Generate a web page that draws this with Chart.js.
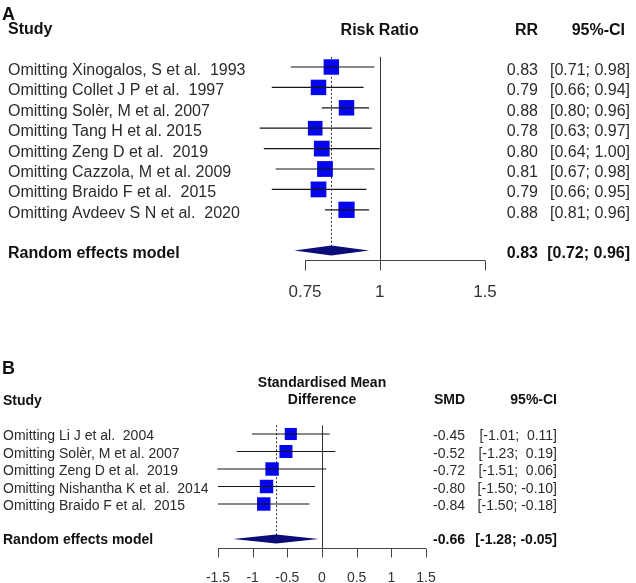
<!DOCTYPE html>
<html>
<head>
<meta charset="utf-8">
<script src="https://cdn.jsdelivr.net/npm/chart.js@4/dist/chart.umd.min.js"></script>
<style>
body { margin: 0; background: #fff; }
canvas { position: absolute; left: 0; }
</style>
</head>
<body>
<canvas id="chartA" width="636" height="300" style="top:0"></canvas>
<canvas id="chartB" width="636" height="283" style="top:300px"></canvas>
<script>
// panel A - risk ratio, leave-one-out
var studiesA = [
  'Omitting Xinogalos, S et al.  1993',
  'Omitting Collet J P et al.  1997',
  'Omitting Sol\u00e8r, M et al. 2007',
  'Omitting Tang H et al. 2015',
  'Omitting Zeng D et al.  2019',
  'Omitting Cazzola, M et al. 2009',
  'Omitting Braido F et al.  2015',
  'Omitting Avdeev S N et al.  2020'
];
var rrA = [0.83, 0.79, 0.88, 0.78, 0.80, 0.81, 0.79, 0.88];
var loA = [0.71, 0.66, 0.80, 0.63, 0.64, 0.67, 0.66, 0.81];
var hiA = [0.98, 0.94, 0.96, 0.97, 1.00, 0.98, 0.95, 0.96];
var weightA = [0.95, 0.95, 0.95, 0.9, 0.97, 0.97, 0.97, 1];
var summaryA = [0.83, 0.72, 0.96];
var ticksA = [0.75, 1, 1.5];

// panel B - standardised mean difference
var studiesB = [
  'Omitting Li J et al.  2004',
  'Omitting Sol\u00e8r, M et al. 2007',
  'Omitting Zeng D et al.  2019',
  'Omitting Nishantha K et al.  2014',
  'Omitting Braido F et al.  2015'
];
var smdB = [-0.45, -0.52, -0.72, -0.80, -0.84];
var loB = [-1.01, -1.23, -1.51, -1.50, -1.50];
var hiB = [0.11, 0.19, 0.06, -0.10, -0.18];
var weightB = [0.9, 0.97, 1, 1, 1];
var summaryB = [-0.66, -1.28, -0.05];
var ticksB = [-1.5, -1, -0.5, 0, 0.5, 1, 1.5];

function fmt(v) { return v.toFixed(2); }
function fmtSigned(v) { return (v < 0 ? '' : ' ') + v.toFixed(2); }

function forest(id, o) {
  var pts = o.est.map(function(v, i) { return {x: v, y: i + 1}; });
  var sets = o.est.map(function(v, i) {
    return {
      data: [{x: o.lo[i], y: i + 1}, {x: o.hi[i], y: i + 1}],
      showLine: true, borderColor: '#151515', borderWidth: 1.2,
      pointRadius: 0, clip: false
    };
  });
  sets.push({
    data: pts, pointStyle: 'rect',
    pointRadius: o.w.map(function(w) { return w * o.box; }),
    backgroundColor: '#0505ee', borderColor: '#0505ee', borderWidth: 0, clip: false
  });
  sets.push({
    data: pts, pointStyle: 'line', pointRotation: 90, pointRadius: 3,
    borderColor: '#111', borderWidth: 1, clip: false
  });

  var deco = {
    id: 'deco',
    beforeDatasetsDraw: function(chart) {
      var ctx = chart.ctx, x = chart.scales.x, y = chart.scales.y, a = chart.chartArea;
      ctx.save();
      ctx.strokeStyle = '#333';
      ctx.lineWidth = 1;
      // null line
      var nx = Math.round(x.getPixelForValue(o.nullValue)) + 0.5;
      ctx.beginPath(); ctx.moveTo(nx, y.getPixelForValue(0.5)); ctx.lineTo(nx, a.bottom); ctx.stroke();
      // summary dotted line
      var sx = Math.round(x.getPixelForValue(o.summary[0])) + 0.5;
      ctx.setLineDash([2, 2]);
      ctx.beginPath(); ctx.moveTo(sx, y.getPixelForValue(0.5)); ctx.lineTo(sx, y.getPixelForValue(o.sumRow)); ctx.stroke();
      ctx.setLineDash([]);
      // axis
      var by = Math.round(a.bottom) + 0.5;
      ctx.strokeStyle = '#444';
      ctx.beginPath();
      ctx.moveTo(x.getPixelForValue(o.ticks[0]), by);
      ctx.lineTo(x.getPixelForValue(o.ticks[o.ticks.length - 1]), by);
      o.ticks.forEach(function(t) {
        var tx = Math.round(x.getPixelForValue(t)) + 0.5;
        ctx.moveTo(tx, by); ctx.lineTo(tx, by + o.tickLen);
      });
      ctx.stroke();
      ctx.fillStyle = '#333';
      ctx.font = o.tickFont;
      ctx.textAlign = 'center';
      ctx.textBaseline = 'alphabetic';
      o.ticks.forEach(function(t) {
        ctx.fillText(String(t), x.getPixelForValue(t), o.tickY);
      });
      ctx.restore();
    },
    afterDatasetsDraw: function(chart) {
      var ctx = chart.ctx, x = chart.scales.x, y = chart.scales.y;
      ctx.save();
      // diamond
      var dy = y.getPixelForValue(o.sumRow);
      ctx.fillStyle = '#0b0b7a';
      ctx.beginPath();
      ctx.moveTo(x.getPixelForValue(o.summary[1]), dy);
      ctx.lineTo(x.getPixelForValue(o.summary[0]), dy - o.dh);
      ctx.lineTo(x.getPixelForValue(o.summary[2]), dy);
      ctx.lineTo(x.getPixelForValue(o.summary[0]), dy + o.dh);
      ctx.closePath();
      ctx.fill();

      ctx.textBaseline = 'alphabetic';
      // panel letter and headers
      ctx.fillStyle = '#111';
      ctx.font = 'bold 18px "Liberation Sans", Arial, sans-serif';
      ctx.textAlign = 'left';
      ctx.fillText(o.letter, 2, o.letterY);
      ctx.font = o.boldFont;
      ctx.fillText('Study', o.textX, o.studyY);
      ctx.textAlign = 'center';
      var nx = x.getPixelForValue(o.nullValue);
      o.title.forEach(function(t, i) { ctx.fillText(t, nx, o.titleY[i]); });
      ctx.textAlign = 'right';
      ctx.fillText(o.estName, o.estX, o.headY);
      ctx.fillText('95%-CI', o.ciHeadX, o.headY);

      // rows
      ctx.font = o.font;
      ctx.fillStyle = '#2b2b2b';
      o.labels.forEach(function(l, i) {
        var ry = y.getPixelForValue(i + 1) + o.baseOff;
        ctx.textAlign = 'left';
        ctx.fillText(l, o.textX, ry);
        ctx.textAlign = 'right';
        ctx.fillText(fmt(o.est[i]), o.estX, ry);
        ctx.fillText('[' + fmt(o.lo[i]) + '; ' + o.fmtHi(o.hi[i]) + ']', o.ciX, ry);
      });

      // summary row
      ctx.font = o.boldFont;
      ctx.fillStyle = '#111';
      var sy = dy + o.baseOff - 1;
      ctx.textAlign = 'left';
      ctx.fillText('Random effects model', o.textX, sy);
      ctx.textAlign = 'right';
      ctx.fillText(fmt(o.summary[0]), o.estX, sy);
      ctx.fillText('[' + fmt(o.summary[1]) + '; ' + o.fmtHi(o.summary[2]) + ']', o.ciX, sy);
      ctx.restore();
    }
  };

  return new Chart(document.getElementById(id), {
    type: 'scatter',
    data: {datasets: sets},
    options: {
      responsive: false,
      animation: false,
      events: [],
      layout: {padding: o.pad},
      plugins: {legend: {display: false}, tooltip: {enabled: false}},
      scales: {
        x: {type: o.xType, min: o.ticks[0], max: o.ticks[o.ticks.length - 1], display: false},
        y: {type: 'linear', reverse: true, min: 0, max: o.yMax, display: false}
      }
    },
    plugins: [deco]
  });
}

forest('chartA', {
  labels: studiesA, est: rrA, lo: loA, hi: hiA, w: weightA,
  summary: summaryA, ticks: ticksA, xType: 'logarithmic', nullValue: 1,
  sumRow: 10, yMax: 10.46, box: 11.5, dh: 5,
  pad: {left: 305, right: 151, top: 46.6, bottom: 40},
  fmtHi: fmt, letter: 'A', letterY: 20, studyY: 34, titleY: [35], title: ['Risk Ratio'],
  headY: 35, estName: 'RR', estX: 538, ciHeadX: 625, ciX: 630, textX: 8,
  font: '16px "Liberation Sans", Arial, sans-serif',
  boldFont: 'bold 16px "Liberation Sans", Arial, sans-serif',
  tickFont: '17px "Liberation Sans", Arial, sans-serif',
  tickLen: 10, tickY: 297, baseOff: 8
});

forest('chartB', {
  labels: studiesB, est: smdB, lo: loB, hi: hiB, w: weightB,
  summary: summaryB, ticks: ticksB, xType: 'linear', nullValue: 0,
  sumRow: 7, yMax: 7.514, box: 9.5, dh: 4.5,
  pad: {left: 218, right: 210, top: 116.5, bottom: 35},
  fmtHi: fmtSigned, letter: 'B', letterY: 74, studyY: 105, titleY: [87, 104],
  title: ['Standardised Mean', 'Difference'],
  headY: 104, estName: 'SMD', estX: 465, ciHeadX: 557, ciX: 557, textX: 3,
  font: '14px "Liberation Sans", Arial, sans-serif',
  boldFont: 'bold 14px "Liberation Sans", Arial, sans-serif',
  tickFont: '14px "Liberation Sans", Arial, sans-serif',
  tickLen: 9, tickY: 282, baseOff: 6
});
</script>
</body>
</html>
